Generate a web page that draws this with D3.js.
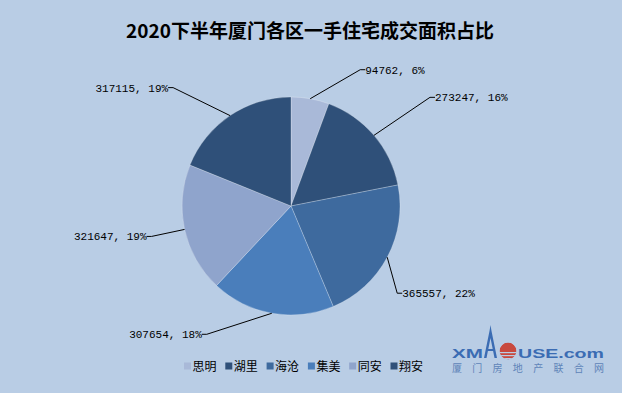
<!DOCTYPE html>
<html>
<head>
<meta charset="utf-8">
<script src="https://cdn.jsdelivr.net/npm/d3@7"></script>
<style>
  html, body { margin: 0; padding: 0; background: #b9cde5; }
  svg { display: block; }
</style>
</head>
<body>
<svg id="chart"></svg>
<script>
// data
var districts = ["思明", "湖里", "海沧", "集美", "同安", "翔安"];
var areas = [94762, 273247, 365557, 307654, 321647, 317115];
var colors = ["#a9b9d8", "#2f5079", "#3e6a9e", "#4a7ebb", "#8fa4cc", "#2f5079"];
// where each leader line bends, relative to the slice edge point (layout only)
var labelOffsets = [[50, -29], [56, -38], [10, 36], [-65, 21], [-33, 7], [-57, -28]];

var width = 622, height = 393;
var cx = 291, cy = 206, radius = 109;

var svg = d3.select("#chart").attr("width", width).attr("height", height);

svg.append("rect")
  .attr("width", width).attr("height", height)
  .attr("fill", "#b9cde5");

svg.append("text")
  .attr("x", 310).attr("y", 38)
  .attr("text-anchor", "middle")
  .style("font-family", "'Noto Sans CJK SC', sans-serif")
  .style("font-weight", "bold")
  .style("font-size", "19px")
  .attr("fill", "#000")
  .text("2020下半年厦门各区一手住宅成交面积占比");

var total = d3.sum(areas);
var pie = d3.pie().sort(null).value(function (d) { return d; });
var arcs = pie(areas);
var arc = d3.arc().innerRadius(0).outerRadius(radius);

var g = svg.append("g").attr("transform", "translate(" + cx + "," + cy + ")");

g.selectAll("path.slice")
  .data(arcs)
  .enter()
  .append("path")
  .attr("class", "slice")
  .attr("d", arc)
  .attr("fill", function (d, i) { return colors[i]; })
  .attr("stroke", "rgba(255,255,255,0.35)")
  .attr("stroke-width", 0.7);

// leader lines + labels
var labels = g.selectAll("g.lbl")
  .data(arcs)
  .enter()
  .append("g")
  .attr("class", "lbl");

labels.each(function (d, i) {
  var a = (d.startAngle + d.endAngle) / 2;
  var px = radius * Math.sin(a), py = -radius * Math.cos(a);
  var ex = px + labelOffsets[i][0], ey = py + labelOffsets[i][1];
  var right = labelOffsets[i][0] > 0;
  var tx = right ? ex + 5 : ex - 5;
  var sel = d3.select(this);
  sel.append("polyline")
    .attr("points", [[px, py], [ex, ey], [tx, ey]].map(function (p) { return p.join(","); }).join(" "))
    .attr("fill", "none")
    .attr("stroke", "#000")
    .attr("stroke-width", 1);
  sel.append("text")
    .attr("x", tx)
    .attr("y", ey + 4)
    .attr("text-anchor", right ? "start" : "end")
    .style("font-family", "'Liberation Mono', monospace")
    .style("font-size", "11px")
    .attr("fill", "#000")
    .text(d.data + ", " + Math.round(d.data / total * 100) + "%");
});

// legend
var legend = svg.append("g").attr("transform", "translate(184,366)");
var item = legend.selectAll("g")
  .data(districts)
  .enter()
  .append("g")
  .attr("transform", function (d, i) { return "translate(" + i * 41.3 + ",0)"; });
item.append("rect")
  .attr("x", 0).attr("y", -3.5)
  .attr("width", 7).attr("height", 7)
  .attr("fill", function (d, i) { return colors[i]; });
item.append("text")
  .attr("x", 8.5).attr("y", 4.5)
  .style("font-family", "'Noto Sans CJK SC', sans-serif")
  .style("font-size", "12px")
  .attr("fill", "#000")
  .text(function (d) { return d; });

// xmhouse logo
var logo = svg.append("g");
logo.append("text")
  .attr("x", 452).attr("y", 358)
  .attr("textLength", 31).attr("lengthAdjust", "spacingAndGlyphs")
  .style("font-family", "'Liberation Sans', Arial, sans-serif")
  .style("font-weight", "bold")
  .style("font-size", "12px")
  .attr("fill", "#3b6cb3")
  .text("XM");
logo.append("path")
  .attr("d", "M484,358 L489.5,331 L490.5,325 L491.5,331 L497,358 L494.5,358 L490.5,338 L486.5,358 Z M487,349 L494,349 L494,351 L487,351 Z")
  .attr("fill", "#3b6cb3");
var defs = svg.append("defs");
defs.append("clipPath").attr("id", "sun")
  .append("circle").attr("cx", 508).attr("cy", 351).attr("r", 8.5);
var sun = logo.append("g").attr("clip-path", "url(#sun)");
sun.append("circle").attr("cx", 508).attr("cy", 351).attr("r", 8.5).attr("fill", "#c8493f");
[352, 355, 358].forEach(function (y) {
  sun.append("rect").attr("x", 498).attr("y", y).attr("width", 20).attr("height", 1.2).attr("fill", "#b9cde5");
});
logo.append("text")
  .attr("x", 518).attr("y", 358)
  .attr("textLength", 86).attr("lengthAdjust", "spacingAndGlyphs")
  .style("font-family", "'Liberation Sans', Arial, sans-serif")
  .style("font-weight", "bold")
  .style("font-size", "12px")
  .attr("fill", "#3b6cb3")
  .text("USE.com");
logo.append("text")
  .attr("x", 452).attr("y", 372)
  .attr("textLength", 152)
  .style("font-family", "'Noto Sans CJK SC', sans-serif")
  .style("font-size", "10px")
  .attr("fill", "#5f84b8")
  .text("厦门房地产联合网");
</script>
</body>
</html>
